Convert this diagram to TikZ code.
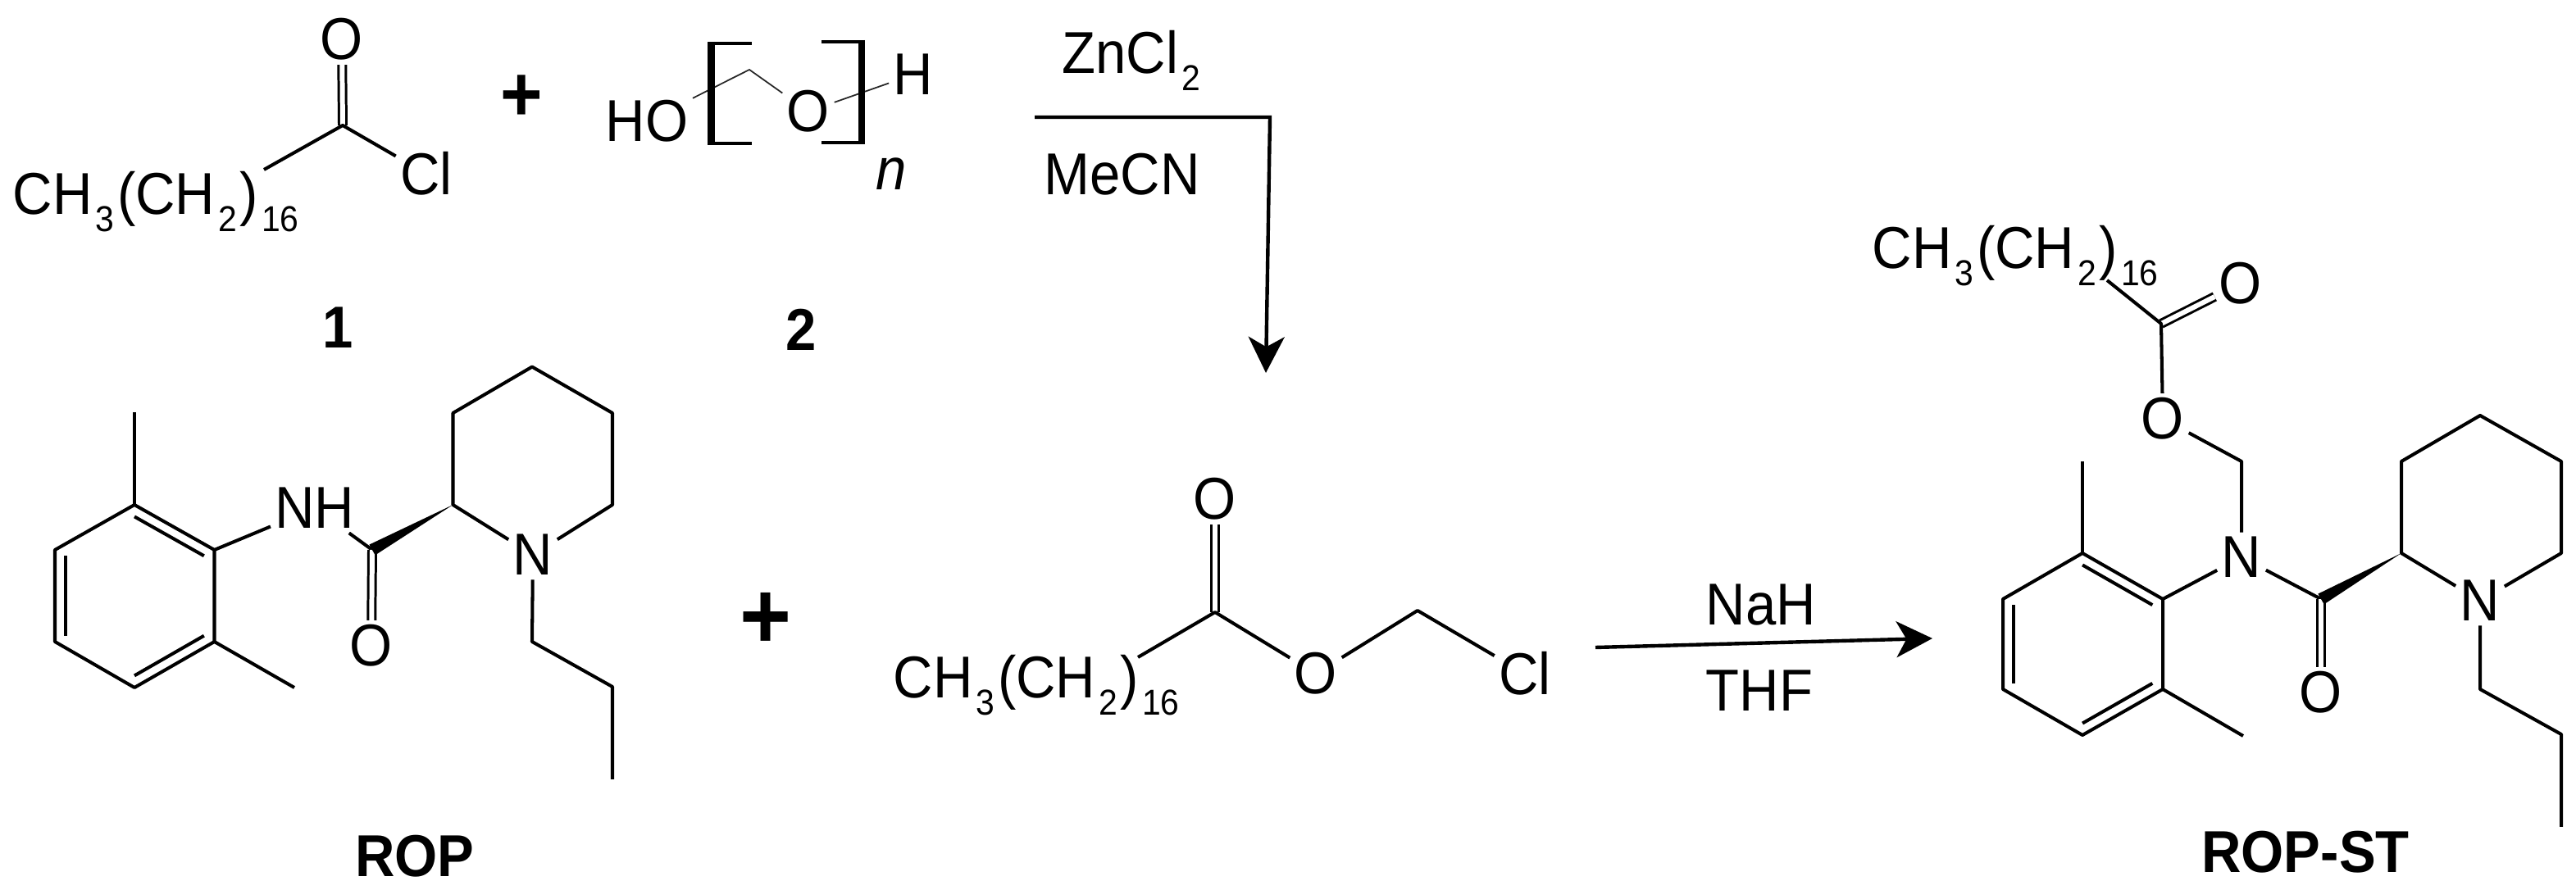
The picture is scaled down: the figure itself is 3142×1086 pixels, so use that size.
\documentclass[tikz,border=0pt]{standalone}
\usepackage{fontspec}
\setmainfont[FakeStretch=0.93]{Liberation Sans}
\usetikzlibrary{arrows.meta, calc}
\newcommand{\chemsub}[1]{\kern1.2pt\raisebox{-5.7pt}{\fontsize{12.5}{12.5}\selectfont #1}\kern1pt}
\tikzset{
  atom/.style={inner sep=1.4pt, font=\fontsize{20.5}{20.5}\selectfont},
  textlabel/.style={inner sep=0pt, anchor=base west, font=\fontsize{20.5}{20.5}\selectfont},
  boldlabel/.style={inner sep=0pt, font=\fontsize{20.5}{20.5}\selectfont\bfseries},
  bond/.style={line width=1.15pt, line join=round},
  thinbond/.style={line width=0.5pt, line join=round, black!85},
  dblbond/.style={line width=0.85pt, double, double distance=1.7pt},
  bracketbar/.style={line width=2.5pt},
  rxnarrow/.style={line width=1.25pt, line join=miter, -{Stealth[length=12.5pt, width=12.5pt, inset=3.5pt]}}
}
\begin{document}
\begin{tikzpicture}[x=0.01cm, y=-0.01cm]
  \useasboundingbox (0,0) rectangle (3142,1086);

  % Acyl chloride 1
  \coordinate (acC) at (418,153);
  \coordinate (acTail) at (322,207);
  \node[atom] (acO) at (417,48) {O};
  \node[atom] (acCl) at (520,212) {Cl};
  \node[textlabel] (acChain) at (15,262) {CH\chemsub{3}(CH\chemsub{2})\chemsub{16}};
  \draw[dblbond] (acC) -- (acO);
  \draw[bond] (acTail) -- (acC) -- (acCl);
  \node[boldlabel] (numOne) at (412,400) {1};

  \node[font=\fontsize{27}{27}\selectfont\bfseries, inner sep=0pt] (plusA) at (636,120) {+};

  % Paraformaldehyde 2
  \coordinate (pfC) at (914,85);
  \node[atom] (pfHO) at (789,148) {HO};
  \node[atom] (pfO) at (986,136) {O};
  \node[atom] (pfH) at (1114,91) {H};
  \node[atom, font=\fontsize{20.5}{20.5}\selectfont\itshape] (pfN) at (1087,212) {n};
  \draw[thinbond] (pfHO) -- (pfC) -- (pfO) -- (pfH);
  % Brackets - heavy upright, light arms
  \draw[bond] (917,53) -- (863,53);
  \draw[bond] (917,175) -- (863,175);
  \draw[bracketbar] (867.5,51) -- (867.5,177);
  \draw[bond] (1002,51) -- (1055,51);
  \draw[bond] (1002,174) -- (1055,174);
  \draw[bracketbar] (1051,49) -- (1051,176);
  \node[boldlabel] (numTwo) at (977,402) {2};

  % Acylation step
  \coordinate (zcA) at (1262,143);
  \coordinate (zcB) at (1549,143);
  \coordinate (zcC) at (1544,455);
  \draw[rxnarrow] (zcA) -- (zcB) -- (zcC);
  \node[textlabel] (zcTop) at (1295,90) {ZnCl\chemsub{2}};
  \node[textlabel] (zcBot) at (1273,238) {MeCN};

  % ROP
  \coordinate (rA) at (164,616);
  \coordinate (rB) at (261.5,671);
  \coordinate (rC) at (261.5,783);
  \coordinate (rD) at (164,839);
  \coordinate (rE) at (67,783);
  \coordinate (rF) at (67,671);
  \coordinate (rCen) at (164,727);
  \coordinate (rMeA) at (164,503);
  \coordinate (rMeB) at (359,839);
  \coordinate (rCO) at (454,671);
  \coordinate (rP) at (552.5,616);
  \coordinate (rQ) at (552.5,504);
  \coordinate (rR) at (649,447.6);
  \coordinate (rS) at (747,504);
  \coordinate (rT) at (747,616);
  \coordinate (rU) at (649,783);
  \coordinate (rV) at (747,838);
  \coordinate (rW) at (747,951);
  \node[atom] (rNH) at (384,620) {NH};
  \node[atom] (rO) at (453,788) {O};
  \node[atom] (rN) at (650,677) {N};
  \draw[bond] (rA) -- (rB) -- (rC) -- (rD) -- (rE) -- (rF) -- cycle;
  \draw[bond] ($(rCen)!.87!(rA)$) -- ($(rCen)!.87!(rB)$);
  \draw[bond] ($(rCen)!.87!(rC)$) -- ($(rCen)!.87!(rD)$);
  \draw[bond] ($(rCen)!.87!(rE)$) -- ($(rCen)!.87!(rF)$);
  \draw[bond] (rA) -- (rMeA);
  \draw[bond] (rC) -- (rMeB);
  \draw[bond] (rB) -- (rNH);
  \draw[bond] (rNH) -- (rCO);
  \draw[dblbond] (rCO) -- (rO);
  \fill (rP) -- ($(rCO)!.065!90:(rP)$) -- ($(rCO)!.065!-90:(rP)$) -- cycle;
  \draw[bond] (rN) -- (rP) -- (rQ) -- (rR) -- (rS) -- (rT) -- (rN);
  \draw[bond] (rN) -- (rU) -- (rV) -- (rW);
  \node[boldlabel] (ropName) at (506,1045) {ROP};

  \node[font=\fontsize{33}{33}\selectfont\bfseries, inner sep=0pt] (plusB) at (934,757) {+};

  % Chloromethyl stearate
  \coordinate (csC) at (1482,747);
  \coordinate (csTail) at (1388,802);
  \coordinate (csM) at (1729,745);
  \node[atom] (csO) at (1482,609) {O};
  \node[atom] (csOe) at (1605,822) {O};
  \node[atom] (csCl) at (1860,822) {Cl};
  \node[textlabel] (csChain) at (1089,852) {CH\chemsub{3}(CH\chemsub{2})\chemsub{16}};
  \draw[dblbond] (csC) -- (csO);
  \draw[bond] (csTail) -- (csC) -- (csOe) -- (csM) -- (csCl);

  % Alkylation step
  \coordinate (naA) at (1946,790);
  \coordinate (naB) at (2357,779);
  \draw[rxnarrow] (naA) -- (naB);
  \node[textlabel] (naTop) at (2080,763) {NaH};
  \node[textlabel] (naBot) at (2080,868) {THF};

  % ROP-ST
  \coordinate (pA) at (2540,675);
  \coordinate (pB) at (2638,731);
  \coordinate (pC) at (2638,841);
  \coordinate (pD) at (2540,897);
  \coordinate (pE) at (2443,841);
  \coordinate (pF) at (2443,731);
  \coordinate (pCen) at (2540.5,786);
  \coordinate (pMeA) at (2540,563);
  \coordinate (pMeB) at (2736,898);
  \coordinate (pCO) at (2831,731);
  \coordinate (pP) at (2929,675);
  \coordinate (pQ) at (2929,563);
  \coordinate (pR) at (3025,507);
  \coordinate (pS) at (3124,563);
  \coordinate (pT) at (3124,675);
  \coordinate (pU) at (3025,841);
  \coordinate (pV) at (3124,896);
  \coordinate (pW) at (3124,1009);
  \coordinate (pM) at (2734,563);
  \coordinate (pEst) at (2636,395);
  \coordinate (pTail) at (2570,342);
  \node[textlabel] (pChain) at (2283,328) {CH\chemsub{3}(CH\chemsub{2})\chemsub{16}};
  \node[atom] (pOd) at (2733,346) {O};
  \node[atom] (pOe) at (2638,511) {O};
  \node[atom] (pNa) at (2734,680) {N};
  \node[atom] (pO) at (2831,845) {O};
  \node[atom] (pN) at (3025,733) {N};
  \draw[dblbond] (pEst) -- (pOd);
  \draw[bond] (pTail) -- (pEst) -- (pOe) -- (pM) -- (pNa);
  \draw[bond] (pA) -- (pB) -- (pC) -- (pD) -- (pE) -- (pF) -- cycle;
  \draw[bond] ($(pCen)!.87!(pA)$) -- ($(pCen)!.87!(pB)$);
  \draw[bond] ($(pCen)!.87!(pC)$) -- ($(pCen)!.87!(pD)$);
  \draw[bond] ($(pCen)!.87!(pE)$) -- ($(pCen)!.87!(pF)$);
  \draw[bond] (pA) -- (pMeA);
  \draw[bond] (pC) -- (pMeB);
  \draw[bond] (pB) -- (pNa);
  \draw[bond] (pNa) -- (pCO);
  \draw[dblbond] (pCO) -- (pO);
  \fill (pP) -- ($(pCO)!.065!90:(pP)$) -- ($(pCO)!.065!-90:(pP)$) -- cycle;
  \draw[bond] (pN) -- (pP) -- (pQ) -- (pR) -- (pS) -- (pT) -- (pN);
  \draw[bond] (pN) -- (pU) -- (pV) -- (pW);
  \node[boldlabel] (ropstName) at (2812,1040) {ROP-ST};
\end{tikzpicture}
\end{document}
